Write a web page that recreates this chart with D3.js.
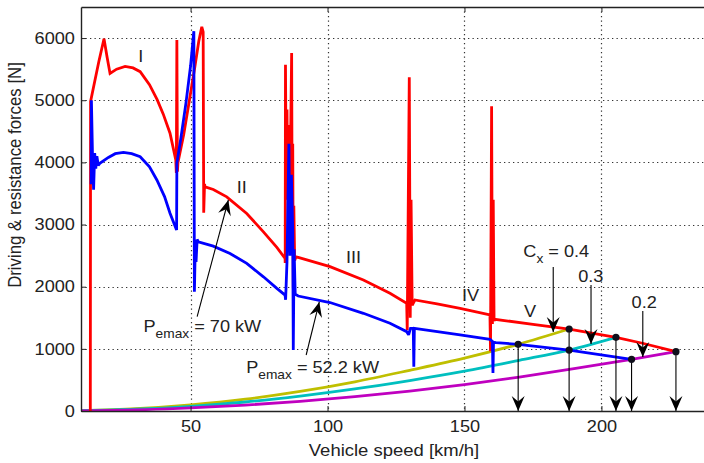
<!DOCTYPE html>
<html>
<head>
<meta charset="utf-8">
<script src="https://cdn.jsdelivr.net/npm/d3@7"></script>
<style>
  body { margin: 0; background: #fff; }
  svg { display: block; font-family: "Liberation Sans", Arial, sans-serif; }
</style>
</head>
<body>
<svg id="chart" width="704" height="463"></svg>
<script>
(function () {
  'use strict';

  // axis ticks
  const speedTicks = [50, 100, 150, 200];
  const forceTicks = [0, 1000, 2000, 3000, 4000, 5000, 6000];

  // driving force, Pemax = 70 kW (red), gears I..V
  const redSpeed = [13.4, 13.5, 15, 16.5, 18.4, 19.5, 20.6, 23, 26.1, 29, 31.6, 35, 37.8, 40, 42.5, 44.6,
    44.8, 45.0, 45.2, 45.4, 47.5, 49.5, 51.5, 53, 54.1, 54.6, 54.8, 55.1, 55.3,
    58.3, 63.2, 70.5, 76.6, 81.5, 84.5,
    84.55, 84.65, 84.9, 85.2, 85.5, 85.9, 86.3, 86.9, 87.1, 87.3, 87.5, 87.7, 88.0, 88.5,
    89.3, 100.9, 113.1, 122.8, 128.9,
    129.1, 129.85, 130.2, 130.5, 130.9, 131.9,
    140, 148.4, 159.3,
    159.5, 159.9, 160.2, 160.5, 160.8, 161.1,
    175, 188.2, 205.3, 215, 227.2];
  const redForce = [0, 4980, 5300, 5620, 5990, 5700, 5430, 5500, 5545, 5520, 5460, 5250, 5010, 4780, 4470, 4040,
    3830, 5970, 3850, 4000, 4450, 4980, 5520, 5950, 6180, 6100, 3190, 3650, 3606,
    3565, 3445, 3177, 2883, 2632, 2455,
    2380, 5570, 3800, 4850, 3400, 4600, 3500, 5760, 3000, 4300, 1975, 3300, 2420, 2480,
    2473, 2322, 2108, 1894, 1733,
    1300, 5370, 1500, 3400, 1700, 1786,
    1722, 1652, 1545,
    960, 4905, 1400, 3400, 1450, 1475,
    1395, 1319, 1186, 1090, 954];

  // driving force, Pemax = 52.2 kW (blue)
  const blueSpeed = [13.7, 13.8, 14.2, 14.6, 15.0, 15.4, 15.8, 16.3, 17, 20, 22.5, 25.5, 28.5, 31.6, 35, 37.7, 40.5, 42.5, 44.9,
    45.0, 46.5, 48.3, 50, 51.2, 51.4, 51.7, 52.0, 52.4, 52.8,
    58.3, 64.4, 70.5, 76.6, 81.5, 84.5,
    84.7, 85.2, 85.9, 86.3, 86.8, 87.3, 87.5, 87.8, 88.2,
    89.3, 100.9, 113.1, 122.8, 128.9,
    129.6, 130.3, 131.3, 131.5, 131.7,
    133.7, 148.4, 159.3,
    160.2, 160.4, 160.6,
    161.5, 169.6, 188.2, 211];
  const blueForce = [3650, 5000, 4100, 3560, 4150, 3900, 4100, 3950, 3990, 4080, 4140, 4160, 4140, 4090, 3930, 3717, 3450, 3181, 2912,
    3990, 4400, 4950, 5550, 6110, 1918, 2600, 2400, 2760, 2722,
    2653, 2535, 2375, 2159, 1973, 1865,
    1790, 2400, 4300, 2500, 3800, 2900, 981, 2600, 1880,
    1850, 1745, 1572, 1411, 1276,
    1225, 1330, 1330, 713, 1330,
    1319, 1223, 1154,
    1120, 611, 1105,
    1099, 1073, 981, 831];

  // resistance forces for Cx = 0.4, 0.3, 0.2
  const cx04Speed = [10, 30, 50, 70, 90, 110, 130, 150, 169.6, 188.2];
  const cx04Force = [5, 38, 100, 190, 315, 470, 655, 850, 1073, 1319];
  const cx03Speed = [10, 30, 50, 70, 90, 110, 130, 150, 170, 188.2, 205.3];
  const cx03Force = [4, 28, 75, 145, 240, 355, 490, 640, 815, 981, 1186];
  const cx02Speed = [10, 30, 50, 70, 90, 110, 130, 150, 170, 190, 211, 227.2];
  const cx02Force = [3, 18, 50, 95, 155, 230, 320, 425, 545, 680, 831, 954];

  // intersection points (max speeds)
  const dotSpeed = [169.6, 188.2, 188.2, 205.3, 211, 227.2];
  const dotForce = [1073, 1319, 981, 1186, 831, 954];
  const dropSpeed = [169.6, 188.2, 205.3, 211, 227.2];
  const dropForce = [1073, 1319, 1186, 831, 954];

  // gear labels
  const gearNames = ['I', 'II', 'III', 'IV', 'V'];
  const gearSpeed = [31.8, 68.7, 109.5, 152.2, 173.9];
  const gearForce = [5615, 3508, 2381, 1762, 1512];

  // annotation arrows: [fromSpeed, fromForce, toSpeed, toForce]
  const noteArrows = [
    [52.4, 1517, 63.8, 3395],
    [92.2, 901, 97.0, 1754],
    [182.4, 2317, 182.4, 1271],
    [196.2, 2027, 196.2, 1078],
    [215.1, 1609, 215.1, 869]
  ];

  const colors = { red: '#ff0000', blue: '#0000ff', cx04: '#bfbf00', cx03: '#00bfbf', cx02: '#bf00bf' };
  const SX = 1.1; // the picture is a little wider than tall

  const svg = d3.select('#chart');
  const x = d3.scaleLinear().domain([10, 240]).range([81, 711]);
  const y = d3.scaleLinear().domain([0, 6500]).range([411, 7]);

  const defs = svg.append('defs');
  defs.append('clipPath').attr('id', 'plot-clip')
    .append('rect').attr('x', 81).attr('y', 7).attr('width', 630).attr('height', 404);
  defs.append('marker')
    .attr('id', 'head')
    .attr('markerUnits', 'userSpaceOnUse')
    .attr('viewBox', '-16 -8 17 16')
    .attr('refX', 0).attr('refY', 0)
    .attr('markerWidth', 17).attr('markerHeight', 16)
    .attr('orient', 'auto')
    .append('path')
    .attr('d', 'M0,0 L-15,-6.5 L-9.5,0 L-15,6.5 Z')
    .attr('fill', '#000');

  // dotted grid
  const gGrid = svg.append('g').attr('class', 'grid');
  gGrid.selectAll('line.h').data(forceTicks.filter(d => d > 0)).join('line')
    .attr('class', 'h')
    .attr('x1', x(10)).attr('x2', x(240))
    .attr('y1', d => Math.round(y(d)) + 0.5).attr('y2', d => Math.round(y(d)) + 0.5);
  gGrid.selectAll('line.v').data(speedTicks).join('line')
    .attr('class', 'v')
    .attr('x1', d => Math.round(x(d)) + 0.5).attr('x2', d => Math.round(x(d)) + 0.5)
    .attr('y1', y(6500)).attr('y2', y(0));
  gGrid.selectAll('line')
    .attr('stroke', '#333').attr('stroke-width', 1.2).attr('stroke-dasharray', '1.3,3.2');

  const gPlot = svg.append('g').attr('clip-path', 'url(#plot-clip)');

  const zipPts = (xs, ys) => xs.map((v, i) => [v, ys[i]]);
  const smooth = d3.line().x(d => x(d[0])).y(d => y(d[1])).curve(d3.curveMonotoneX);
  const straight = d3.line().x(d => x(d[0])).y(d => y(d[1]));

  [[cx04Speed, cx04Force, colors.cx04], [cx03Speed, cx03Force, colors.cx03], [cx02Speed, cx02Force, colors.cx02]]
    .forEach(([xs, ys, c]) => {
      gPlot.append('path')
        .attr('d', smooth(zipPts(xs, ys)))
        .attr('fill', 'none').attr('stroke', c).attr('stroke-width', 2.8);
    });

  gPlot.append('path')
    .attr('d', straight(zipPts(redSpeed, redForce)))
    .attr('fill', 'none').attr('stroke', colors.red).attr('stroke-width', 2.8)
    .attr('stroke-linejoin', 'miter').attr('stroke-miterlimit', 2);
  gPlot.append('path')
    .attr('d', straight(zipPts(blueSpeed, blueForce)))
    .attr('fill', 'none').attr('stroke', colors.blue).attr('stroke-width', 2.8)
    .attr('stroke-linejoin', 'miter').attr('stroke-miterlimit', 2);

  // arrows down to the speed axis and label pointers
  const gArrows = svg.append('g').attr('stroke', '#000').attr('stroke-width', 1.1);
  gArrows.selectAll('line.drop').data(dropSpeed).join('line')
    .attr('class', 'drop')
    .attr('x1', d => x(d)).attr('x2', d => x(d))
    .attr('y1', (d, i) => y(dropForce[i])).attr('y2', y(0))
    .attr('marker-end', 'url(#head)');
  gArrows.selectAll('line.note').data(noteArrows).join('line')
    .attr('class', 'note')
    .attr('x1', d => x(d[0])).attr('y1', d => y(d[1]))
    .attr('x2', d => x(d[2])).attr('y2', d => y(d[3]))
    .attr('marker-end', 'url(#head)');

  svg.append('g').selectAll('circle').data(dotSpeed).join('circle')
    .attr('cx', d => x(d)).attr('cy', (d, i) => y(dotForce[i]))
    .attr('r', 3.6).attr('fill', '#10101c');

  // text helpers
  const gText = svg.append('g').attr('fill', '#222').attr('font-size', 16.5);
  function note(speed, force, parts, anchor) {
    const t = gText.append('text')
      .attr('transform', `translate(${x(speed)},${y(force)}) scale(${SX},1)`)
      .attr('text-anchor', anchor || 'start');
    parts.forEach(p => {
      const ts = t.append('tspan').text(p.t);
      if (p.sub) ts.attr('font-size', 12.5).attr('dy', 6);
      if (p.up) ts.attr('dy', -6);
    });
    return t;
  }

  gearNames.forEach((n, i) => note(gearSpeed[i], gearForce[i], [{ t: n }], 'middle'));
  note(171.5, 2483, [{ t: 'C' }, { t: 'x', sub: true }, { t: '\u00a0= 0.4', up: true }]);
  note(191.5, 2080, [{ t: '0.3' }]);
  note(211.0, 1657, [{ t: '0.2' }]);
  note(32.8, 1276, [{ t: 'P' }, { t: 'emax', sub: true }, { t: '\u00a0= 70 kW', up: true }]);
  note(70.3, 612, [{ t: 'P' }, { t: 'emax', sub: true }, { t: '\u00a0= 52.2 kW', up: true }]);

  // axes
  const axisStyle = g => {
    g.select('.domain').attr('stroke', '#222').attr('stroke-width', 1.4);
    g.selectAll('.tick line').attr('stroke', '#222');
    g.selectAll('.tick text').attr('font-size', 16.5).attr('fill', '#222')
      .attr('font-family', '"Liberation Sans", Arial, sans-serif')
      .attr('transform', `scale(${SX},1)`);
  };

  svg.append('g').attr('transform', `translate(0,${y(0)})`)
    .call(d3.axisBottom(x).tickValues(speedTicks).tickSizeInner(-5).tickSizeOuter(0).tickPadding(9))
    .call(axisStyle);
  svg.append('g').attr('transform', `translate(0,${y(6500)})`)
    .call(d3.axisTop(x).tickValues(speedTicks).tickSizeInner(-5).tickSizeOuter(0).tickFormat(''))
    .call(axisStyle);
  svg.append('g').attr('transform', `translate(${x(10)},0)`)
    .call(d3.axisLeft(y).tickValues(forceTicks).tickFormat(d3.format('d'))
      .tickSizeInner(-5).tickSizeOuter(0).tickPadding(5.5))
    .call(axisStyle);

  svg.append('text')
    .attr('transform', `translate(394,456) scale(${SX},1)`)
    .attr('text-anchor', 'middle').attr('font-size', 16.8).attr('fill', '#222')
    .text('Vehicle speed [km/h]');
  svg.append('text')
    .attr('transform', `translate(20.5,175) scale(${SX},1) rotate(-90)`)
    .attr('text-anchor', 'middle').attr('font-size', 16.8).attr('fill', '#222')
    .text('Driving & resistance forces [N]');
})();
</script>
</body>
</html>
